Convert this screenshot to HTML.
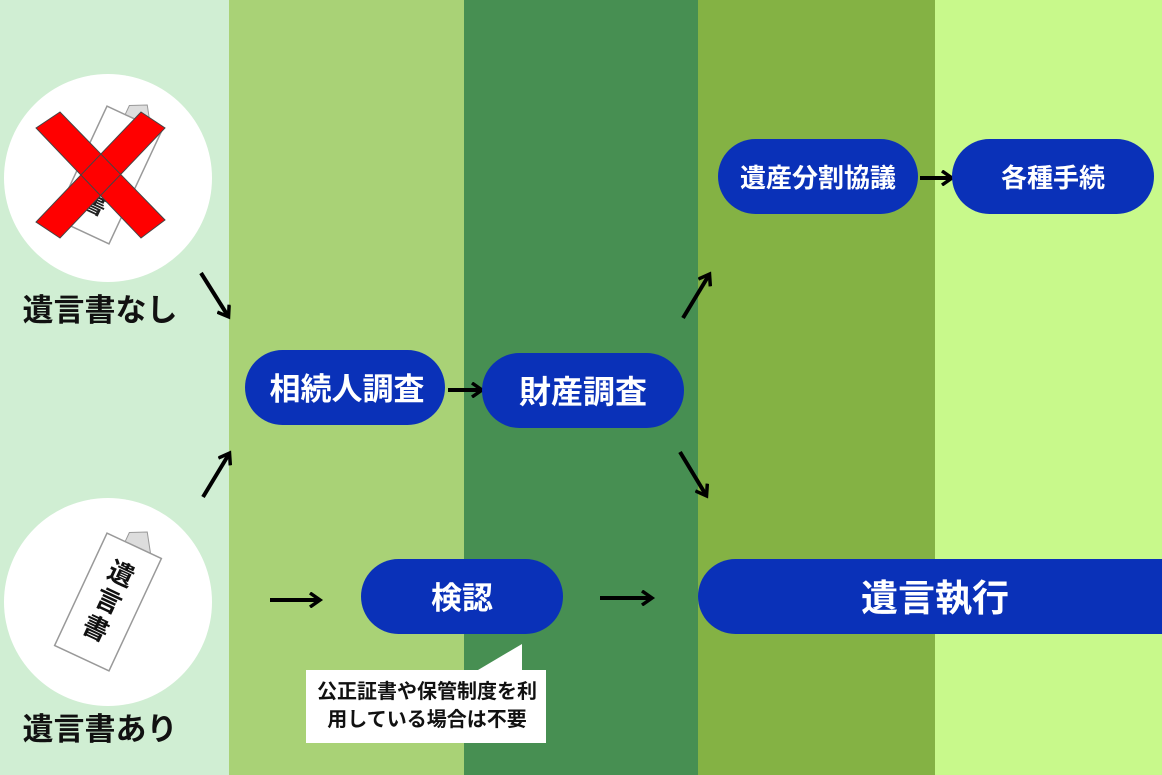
<!DOCTYPE html>
<html><head><meta charset="utf-8"><style>
body{margin:0;width:1162px;height:775px;overflow:hidden;font-family:"Liberation Sans","Noto Sans CJK JP",sans-serif}
</style></head><body>
<svg width="1162" height="775" xmlns="http://www.w3.org/2000/svg" style="display:block">
<defs>
<marker id="a" markerWidth="16" markerHeight="16" refX="11" refY="8" orient="auto" markerUnits="userSpaceOnUse" viewBox="0 0 16 16"><path d="M2,1 L12,8 L2,15" fill="none" stroke="#000" stroke-width="3.5"/></marker>
</defs>
<rect x="0" y="0" width="229" height="775" fill="#d0eed3"/>
<rect x="229" y="0" width="235" height="775" fill="#a9d276"/>
<rect x="464" y="0" width="234" height="775" fill="#478f52"/>
<rect x="698" y="0" width="237" height="775" fill="#84b244"/>
<rect x="935" y="0" width="227" height="775" fill="#c8f98b"/>

<circle cx="108" cy="178" r="104" fill="#fff"/>
<circle cx="108" cy="602" r="104" fill="#fff"/>

<g transform="translate(108,175) rotate(25)">
<path d="M-10,-72 L6,-80 L18,-62 L-10,-62Z" fill="#ddd" stroke="#999"/>
<rect x="-30" y="-62" width="60" height="124" fill="#fff" stroke="#999" stroke-width="1.5"/>
<text x="0" y="40" font-size="24" font-weight="bold" text-anchor="middle" fill="#222">書</text>
</g>
<path d="M36,128 L60,112 L165,220 L141,238 Z M141,112 L165,128 L60,238 L36,222 Z" fill="#f00" stroke="#444" stroke-width="1"/>

<g transform="translate(108,602) rotate(25)">
<path d="M-10,-72 L6,-80 L18,-62 L-10,-62Z" fill="#ddd" stroke="#999"/>
<rect x="-30" y="-62" width="60" height="124" fill="#fff" stroke="#999" stroke-width="1.5"/>
<text x="0" y="-22" font-size="26" font-weight="bold" text-anchor="middle" fill="#111">遺</text>
<text x="0" y="8" font-size="26" font-weight="bold" text-anchor="middle" fill="#111">言</text>
<text x="0" y="38" font-size="26" font-weight="bold" text-anchor="middle" fill="#111">書</text>
</g>

<text x="100" y="321" font-size="31" font-weight="bold" text-anchor="middle" fill="#111">遺言書なし</text>
<text x="100" y="740" font-size="31" font-weight="bold" text-anchor="middle" fill="#111">遺言書あり</text>

<g stroke="#000" stroke-width="4" marker-end="url(#a)" fill="none">
<line x1="201" y1="273" x2="228" y2="316"/>
<line x1="203" y1="497" x2="229" y2="454"/>
<line x1="448" y1="390" x2="481" y2="390"/>
<line x1="683" y1="318" x2="709" y2="275"/>
<line x1="680" y1="452" x2="706" y2="495"/>
<line x1="270" y1="600" x2="319" y2="600"/>
<line x1="600" y1="598" x2="651" y2="598"/>
<line x1="920" y1="178" x2="951" y2="178"/>
</g>

<g fill="#0a31b8">
<rect x="245" y="350" width="200" height="75" rx="37.5"/>
<rect x="482" y="353" width="202" height="75" rx="37.5"/>
<rect x="361" y="559" width="202" height="75" rx="37.5"/>
<rect x="698" y="559" width="500" height="75" rx="37.5"/>
<rect x="718" y="139" width="200" height="75" rx="37.5"/>
<rect x="952" y="139" width="202" height="75" rx="37.5"/>
</g>
<g fill="#fff" font-weight="bold" text-anchor="middle">
<text x="347" y="400" font-size="31">相続人調査</text>
<text x="583" y="403" font-size="32">財産調査</text>
<text x="462" y="609" font-size="31">検認</text>
<text x="935" y="611" font-size="37">遺言執行</text>
<text x="818" y="187" font-size="26">遺産分割協議</text>
<text x="1053" y="187" font-size="26">各種手続</text>
</g>

<path d="M306,670 L478,670 L522,644 L522,670 L546,670 L546,743 L306,743 Z" fill="#fff"/>
<text x="427" y="698" font-size="20" font-weight="bold" text-anchor="middle" fill="#111">公正証書や保管制度を利</text>
<text x="427" y="726" font-size="20" font-weight="bold" text-anchor="middle" fill="#111">用している場合は不要</text>
</svg>
</body></html>
